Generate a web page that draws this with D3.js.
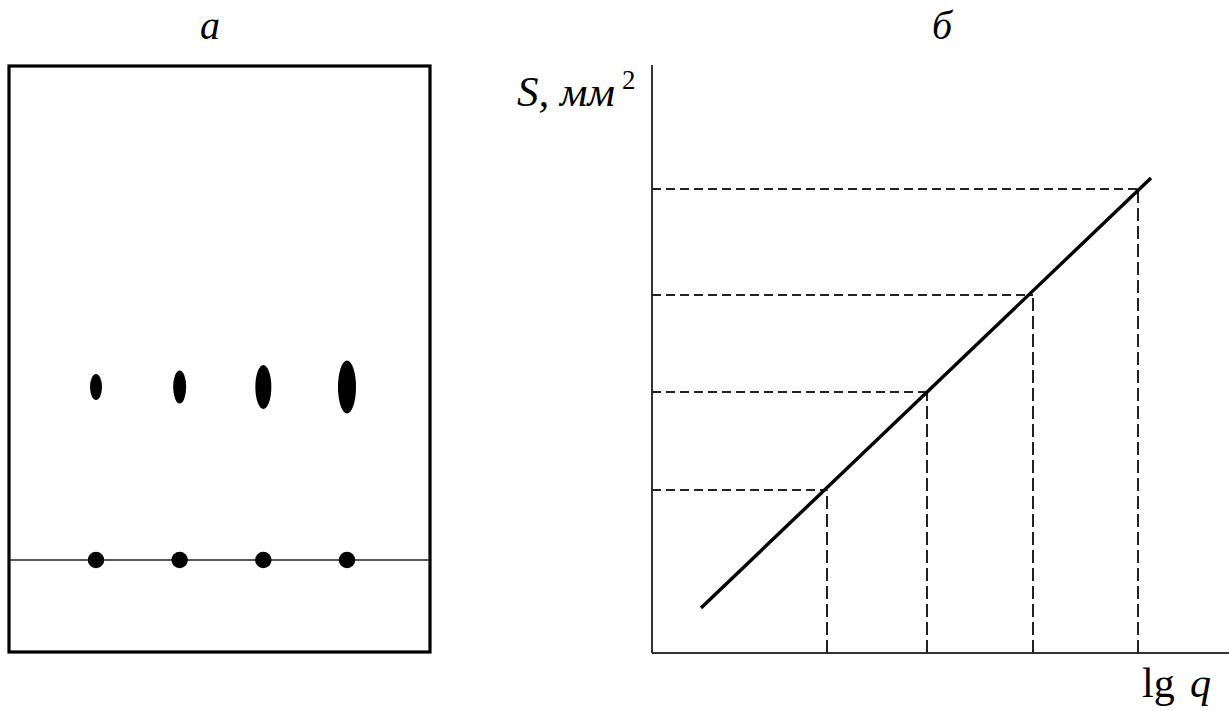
<!DOCTYPE html>
<html>
<head>
<meta charset="utf-8">
<script src="https://cdn.jsdelivr.net/npm/d3@7/dist/d3.min.js"></script>
<style>
  html, body { margin: 0; padding: 0; background: #fff; }
  svg { display: block; }
  text { font-family: "Liberation Serif", "DejaVu Serif", serif; fill: #000; }
</style>
</head>
<body>
<script>
// Panel а: chromatogram with four lanes (start spots and developed spots)
const lanes = [1, 2, 3, 4];
const spotWidth = [1.2, 1.3, 1.6, 1.8];   // developed spot width
const spotLength = [2.6, 3.3, 4.4, 5.3];  // developed spot length
const startSpotDiameter = [1.65, 1.65, 1.65, 1.65];

// Panel б: calibration plot S vs lg q
const lgQ = [1.75, 2.75, 3.81, 4.86];
const areaS = [1.63, 2.61, 3.58, 4.64];
const lineLgQ = [0.49, 4.99];
const lineS = [0.45, 4.75];

const panelTitles = ["а", "б"];

const W = 1229, H = 711;
const svg = d3.select("body").append("svg").attr("width", W).attr("height", H);

// ---------- Panel а ----------
const box = { x0: 9, x1: 430, y0: 66, y1: 652 };
const laneX = d3.scalePoint().domain(lanes).range([96, 347]);
const spotScale = d3.scaleLinear().domain([0, 1]).range([0, 10]);
const startY = 560, frontY = 387;

const gA = svg.append("g");
gA.append("rect")
  .attr("x", box.x0).attr("y", box.y0)
  .attr("width", box.x1 - box.x0).attr("height", box.y1 - box.y0)
  .attr("fill", "none").attr("stroke", "#000").attr("stroke-width", 3.2);
gA.append("line")
  .attr("x1", box.x0).attr("x2", box.x1)
  .attr("y1", startY).attr("y2", startY)
  .attr("stroke", "#222").attr("stroke-width", 1.3);
gA.selectAll("circle.start").data(lanes).join("circle")
  .attr("class", "start")
  .attr("cx", d => laneX(d)).attr("cy", startY)
  .attr("r", (d, i) => spotScale(startSpotDiameter[i]) / 2)
  .attr("fill", "#000");
gA.selectAll("ellipse.spot").data(lanes).join("ellipse")
  .attr("class", "spot")
  .attr("cx", d => laneX(d)).attr("cy", frontY)
  .attr("rx", (d, i) => spotScale(spotWidth[i]) / 2)
  .attr("ry", (d, i) => spotScale(spotLength[i]) / 2)
  .attr("fill", "#000");
gA.append("text")
  .attr("x", 210).attr("y", 39)
  .attr("text-anchor", "middle")
  .attr("font-size", 40).attr("font-style", "italic")
  .text(panelTitles[0]);

// ---------- Panel б ----------
const x = d3.scaleLinear().domain([0, 5.77]).range([652, 1229]);
const y = d3.scaleLinear().domain([0, 5.88]).range([653, 65]);
const gB = svg.append("g");

// axes
gB.append("line")
  .attr("x1", x(0)).attr("x2", x(5.77)).attr("y1", y(0)).attr("y2", y(0))
  .attr("stroke", "#333").attr("stroke-width", 2)
  .attr("shape-rendering", "crispEdges");
gB.append("line")
  .attr("x1", x(0)).attr("x2", x(0)).attr("y1", y(0)).attr("y2", y(5.88))
  .attr("stroke", "#333").attr("stroke-width", 2)
  .attr("shape-rendering", "crispEdges");

// dashed guides to each calibration point
const pts = lgQ.map((q, i) => ({ q, s: areaS[i] }));
gB.selectAll("line.h").data(pts).join("line")
  .attr("class", "h")
  .attr("x1", x(0)).attr("x2", d => x(d.q))
  .attr("y1", d => y(d.s)).attr("y2", d => y(d.s))
  .attr("stroke", "#222").attr("stroke-width", 1.2)
  .attr("stroke-dasharray", "9,5")
  .attr("shape-rendering", "crispEdges");
gB.selectAll("line.v").data(pts).join("line")
  .attr("class", "v")
  .attr("x1", d => x(d.q)).attr("x2", d => x(d.q))
  .attr("y1", y(0)).attr("y2", d => y(d.s))
  .attr("stroke", "#222").attr("stroke-width", 1.2)
  .attr("stroke-dasharray", "13,5")
  .attr("shape-rendering", "crispEdges");

// calibration line
gB.append("path")
  .datum(lineLgQ.map((q, i) => [q, lineS[i]]))
  .attr("d", d3.line().x(d => x(d[0])).y(d => y(d[1])))
  .attr("fill", "none").attr("stroke", "#000").attr("stroke-width", 3.4);

// labels
gB.append("text")
  .attr("x", 942).attr("y", 39)
  .attr("text-anchor", "middle")
  .attr("font-size", 40).attr("font-style", "italic")
  .text(panelTitles[1]);

const sLabel = gB.append("text").attr("x", 517).attr("y", 106).attr("font-size", 43);
sLabel.append("tspan").attr("font-style", "italic").text("S, мм");
sLabel.append("tspan").attr("x", 622).attr("y", 89).attr("font-size", 27).text("2");

const qLabel = gB.append("text").attr("x", 1142).attr("y", 697).attr("font-size", 42);
qLabel.append("tspan").text("lg");
qLabel.append("tspan").attr("x", 1190).attr("font-style", "italic").text("q");
</script>
</body>
</html>
